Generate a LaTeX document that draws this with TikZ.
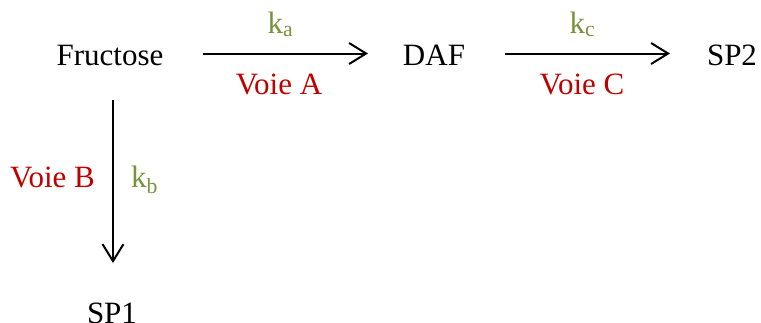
\documentclass[tikz,border=0pt]{standalone}
\usepackage{fontspec}
\setmainfont{Liberation Serif}
\usetikzlibrary{arrows.meta}
\definecolor{kgreen}{HTML}{77933C}
\definecolor{vred}{HTML}{C00000}
\begin{document}
\begin{tikzpicture}[x=1pt,y=-1pt,
  txt/.style={inner sep=0pt,anchor=base,font=\fontsize{31}{37}\selectfont},
  rate/.style={txt,text=kgreen},
  voie/.style={txt,text=vred},
  arr/.style={line width=2pt,-{Straight Barb[length=17pt,width=21pt,line width=2pt]}}]
\useasboundingbox (0,0) rectangle (761,322);
\node[txt] (fr) at (110,65) {Fructose};
\node[txt] (daf) at (434,65) {DAF};
\node[txt] (sp2) at (732,65) {SP2};
\node[txt] (sp1) at (112,323) {SP1};
\node[rate] (ka) at (280.5,33) {k\textsubscript{a}};
\node[voie] (va) at (279,94) {Voie A};
\node[rate] (kc) at (582.5,33) {k\textsubscript{c}};
\node[voie] (vc) at (582,94) {Voie C};
\node[voie] (vb) at (52.5,187) {Voie B};
\node[rate] (kb) at (144.5,187) {k\textsubscript{b}};
\draw[arr] ([shift={(93,-11.5)}]fr.base) -- ([shift={(-66,-11.5)}]daf.base);
\draw[arr] ([shift={(71,-11.5)}]daf.base) -- ([shift={(-62,-11.5)}]sp2.base);
\draw[arr] ([shift={(3,35)}]fr.base) -- ([shift={(1,-60)}]sp1.base);
\end{tikzpicture}
\end{document}
